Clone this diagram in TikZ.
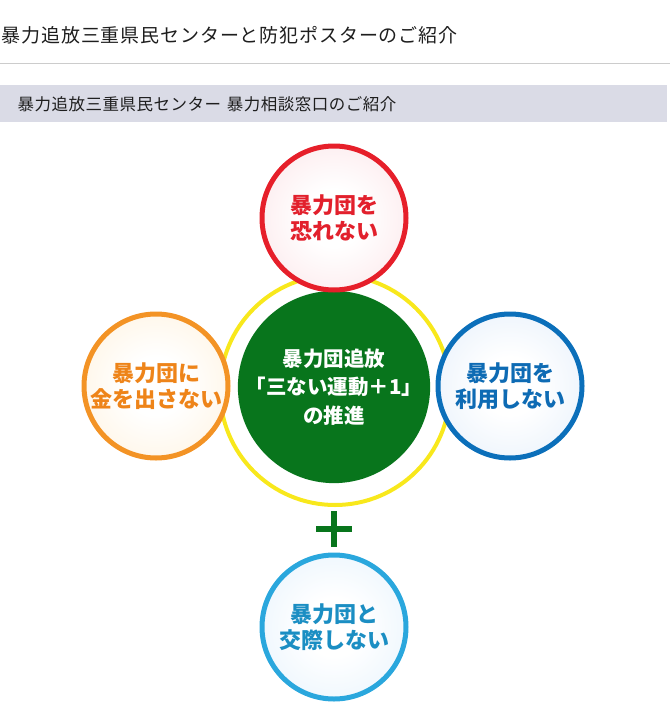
\documentclass[tikz,border=0pt]{standalone}
\usepackage{fontspec}
\setmainfont{Noto Sans CJK JP}
\newfontfamily\headfont[LetterSpace=4.5]{Noto Sans CJK JP}
\newfontfamily\barfont[LetterSpace=3]{Noto Sans CJK JP}
\usetikzlibrary{calc}

\definecolor{inkgray}{HTML}{1E1E1E}
\definecolor{rulegray}{HTML}{CCCCCC}
\definecolor{bargray}{HTML}{DADBE6}
\definecolor{ringyellow}{HTML}{F8E81C}
\definecolor{coregreen}{HTML}{08751C}
\definecolor{redline}{HTML}{E61F2A}
\definecolor{redtext}{HTML}{E2202C}
\definecolor{redtint}{HTML}{FAD6DB}
\definecolor{orangeline}{HTML}{F39325}
\definecolor{orangetext}{HTML}{EE8419}
\definecolor{orangetint}{HTML}{FFEBCB}
\definecolor{blueline}{HTML}{0B6FBA}
\definecolor{bluetext}{HTML}{0E6BB4}
\definecolor{bluetint}{HTML}{D6E6F8}
\definecolor{skyline}{HTML}{2AA7DD}
\definecolor{skytext}{HTML}{1B8EC3}
\definecolor{skytint}{HTML}{D8ECFC}

\pgfdeclareradialshading{redglow}{\pgfpoint{0bp}{0bp}}{color(0bp)=(white); color(10bp)=(white); color(50bp)=(redtint)}
\pgfdeclareradialshading{orangeglow}{\pgfpoint{0bp}{0bp}}{color(0bp)=(white); color(10bp)=(white); color(50bp)=(orangetint)}
\pgfdeclareradialshading{blueglow}{\pgfpoint{0bp}{0bp}}{color(0bp)=(white); color(10bp)=(white); color(50bp)=(bluetint)}
\pgfdeclareradialshading{skyglow}{\pgfpoint{0bp}{0bp}}{color(0bp)=(white); color(10bp)=(white); color(50bp)=(skytint)}

\tikzset{
  nai/.style={circle,line width=5pt,inner sep=0pt,minimum size=144pt,align=center,
    font=\bfseries\fontsize{22}{26}\selectfont},
}

\begin{document}
\begin{tikzpicture}[x=1pt,y=-1pt]
\useasboundingbox (0,0) rectangle (670,712);
% heading and bar
\node[anchor=west,inner sep=0pt,text=inkgray,font=\headfont\fontsize{19}{21}\selectfont] (title) at (1.5,35.5) {暴力追放三重県民センターと防犯ポスターのご紹介};
\coordinate (ruleL) at (0,63);
\coordinate (ruleR) at (670,63);
\draw[rulegray,line width=1pt] (ruleL) -- (ruleR);
\node[anchor=north west,fill=bargray,inner sep=0pt,minimum width=667pt,minimum height=37pt] (bar) at (0,85) {};
\node[anchor=west,inner sep=0pt,text=inkgray,font=\barfont\fontsize{16.5}{18}\selectfont] (subtitle) at (17.5,104.5) {暴力追放三重県民センター\hspace{0.1em} 暴力相談窓口のご紹介};

% ring and core
\node[circle,draw=ringyellow,line width=4pt,inner sep=0pt,minimum size=230pt] (ring) at (335,390) {};
\node[circle,fill=coregreen,inner sep=0pt,minimum size=175pt,text=white,align=center,
  font=\bfseries\fontsize{20.5}{28.5}\selectfont] (core) at (334,387) {暴力団追放\\「三ない運動＋1」\\の推進};

% the four circles
\node[nai,draw=redline,shading=redglow,text=redtext] (fear) at (334,218) {暴力団を\\恐れない};
\node[nai,draw=orangeline,shading=orangeglow,text=orangetext] (money) at (156,386) {暴力団に\\金を出さない};
\node[nai,draw=blueline,shading=blueglow,text=bluetext] (use) at (510,386) {暴力団を\\利用しない};
\node[nai,draw=skyline,shading=skyglow,text=skytext] (contact) at (334,627) {暴力団と\\交際しない};

% plus
\coordinate (plus) at (334,529);
\draw[coregreen,line width=6.5pt] ($(plus)+(-18,0)$) -- ($(plus)+(18,0)$);
\draw[coregreen,line width=6.5pt] ($(plus)+(0,-18)$) -- ($(plus)+(0,18)$);
\end{tikzpicture}
\end{document}
